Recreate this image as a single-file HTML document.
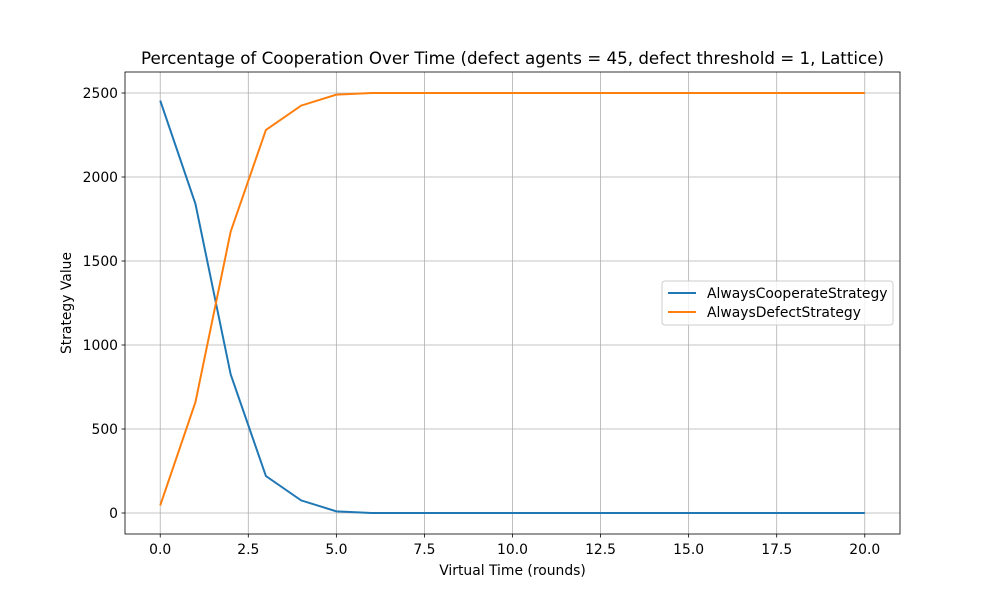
<!DOCTYPE html>
<html><head><meta charset="utf-8"><style>body{margin:0;background:#fff}svg text{font-family:"DejaVu Sans","Liberation Sans",sans-serif}</style></head>
<body>
<svg id="c" width="1000" height="600" xmlns="http://www.w3.org/2000/svg"></svg>
<script>
const xs=[0,1,2,3,4,5,6,7,8,9,10,11,12,13,14,15,16,17,18,19,20];
const coop=[2455,1840,825,220,75,10,0,0,0,0,0,0,0,0,0,0,0,0,0,0,0];
const defect=[45,660,1675,2280,2425,2490,2500,2500,2500,2500,2500,2500,2500,2500,2500,2500,2500,2500,2500,2500,2500];
const xTicks=[0,2.5,5,7.5,10,12.5,15,17.5,20];
const xTickLabels=["0.0","2.5","5.0","7.5","10.0","12.5","15.0","17.5","20.0"];
const yTicks=[0,500,1000,1500,2000,2500];
const L=125,R=900,T=72,B=534;
const X=v=>L+(v+1)/22*(R-L);
const Y=v=>B-(v+125)/2750*(B-T);
const svg=document.getElementById('c');const NS='http://www.w3.org/2000/svg';
function mk(t,a,p){const e=document.createElementNS(NS,t);for(const k in a)e.setAttribute(k,a[k]);(p||svg).appendChild(e);return e;}
xTicks.forEach((t,i)=>{
const g=mk('line',{x1:X(t),x2:X(t),y1:T,y2:B,stroke:'#b0b0b0','stroke-width':0.8});


mk('line',{x1:X(t),x2:X(t),y1:B,y2:B+3.5,stroke:'#000','stroke-width':0.8});
const tx=mk('text',{x:X(t),y:B+20,'text-anchor':'middle','font-size':13.9});tx.textContent=xTickLabels[i];


});
yTicks.forEach(t=>{
const g=mk('line',{x1:L,x2:R,y1:Y(t),y2:Y(t),stroke:'#b0b0b0','stroke-width':0.8});


mk('line',{x1:L-3.5,x2:L,y1:Y(t),y2:Y(t),stroke:'#000','stroke-width':0.8});
const tx=mk('text',{x:L-7,y:Y(t)+5,'text-anchor':'end','font-size':13.9});tx.textContent=t;


});
function line(d,c,n){const p=mk('polyline',{points:xs.map((x,i)=>X(x)+','+Y(d[i])).join(' '),fill:'none',stroke:c,'stroke-width':2});

}
line(coop,'#1f77b4','cooperate-line');line(defect,'#ff7f0e','defect-line');
const fr=mk('rect',{x:L,y:T,width:R-L,height:B-T,fill:'none',stroke:'#000','stroke-width':0.8});


const ti=mk('text',{x:(L+R)/2,y:64,'text-anchor':'middle','font-size':16.7});ti.textContent='Percentage of Cooperation Over Time (defect agents = 45, defect threshold = 1, Lattice)';


const xl=mk('text',{x:(L+R)/2,y:575,'text-anchor':'middle','font-size':13.9});xl.textContent='Virtual Time (rounds)';


const yl=mk('text',{x:71,y:(T+B)/2,'text-anchor':'middle','font-size':13.9,transform:`rotate(-90 71 ${(T+B)/2})`});yl.textContent='Strategy Value';


const lg=mk('g',{});


mk('rect',{x:662,y:281,width:231,height:44,rx:3,fill:'#fff','fill-opacity':0.8,stroke:'#ccc'},lg);
[['AlwaysCooperateStrategy','#1f77b4'],['AlwaysDefectStrategy','#ff7f0e']].forEach((e,i)=>{
const y=293+i*19;
mk('line',{x1:668,x2:696,y1:y,y2:y,stroke:e[1],'stroke-width':2},lg);
const t=mk('text',{x:707,y:y+5,'font-size':13.9},lg);t.textContent=e[0];


});
</script>
</body></html>
